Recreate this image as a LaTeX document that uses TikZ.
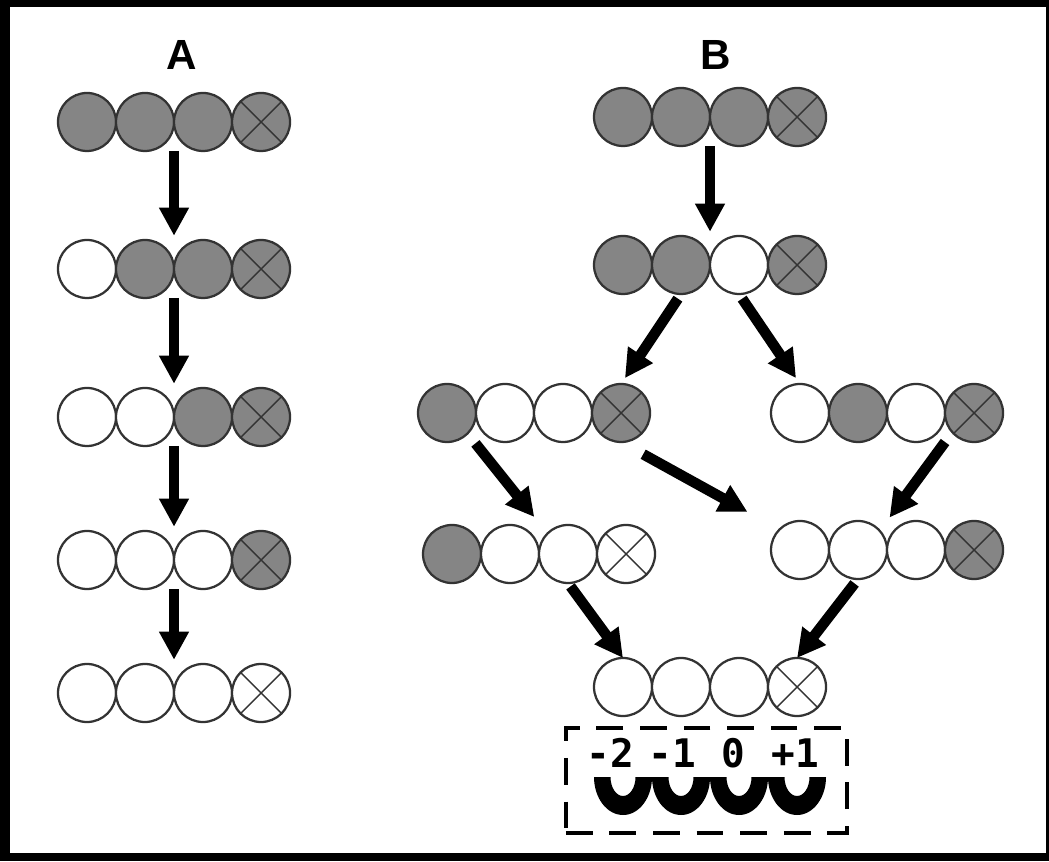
\documentclass[tikz,border=0pt]{standalone}
\usepackage{fontspec}
\setsansfont{Liberation Sans}
\newfontfamily\keyfont{DejaVu Sans Mono}
\usetikzlibrary{positioning,arrows.meta,calc}

\begin{document}
\begin{tikzpicture}[x=0.025cm,y=0.025cm,
        bead/.style={circle,draw=black!80,line width=1.6pt,minimum size=41.25pt,inner sep=0pt,outer sep=0pt},
        full/.style={bead,fill=black!48},
        empty/.style={bead,fill=white},
        crossed/.style={path picture={\draw[black!80,line width=1pt]
            (path picture bounding box.south west) -- (path picture bounding box.north east)
            (path picture bounding box.north west) -- (path picture bounding box.south east);}},
        arr/.style={-{Triangle[length=20pt,width=20pt]},line width=7.5pt},
        title/.style={font=\sffamily\bfseries\fontsize{30}{30}\selectfont},
        num/.style={font=\keyfont\bfseries\fontsize{28}{28}\selectfont,inner sep=0pt}]

        \useasboundingbox (0,0) rectangle (1049,861);
        % Frame
        \fill (0,0) rectangle (1049,861);
        \fill[white] (10,8) rectangle (1046,854);

        \node[title] (labA) at (182,806) {A};
        \node[title] (labB) at (716,806) {B};

        % Strands
        \foreach \r/\x/\y/\fa/\fb/\fc/\fd in {a1/87/739/full/full/full/full,
            a2/87/592/empty/full/full/full, a3/87/444/empty/empty/full/full,
            a4/87/301/empty/empty/empty/full, a5/87/168/empty/empty/empty/empty,
            b1/623/744/full/full/full/full, b2/623/596/full/full/empty/full,
            l3/447/448/full/empty/empty/full, r3/800/448/empty/full/empty/full,
            l4/452/307/full/empty/empty/empty, r4/800/311/empty/empty/empty/full,
            b5/623/174/empty/empty/empty/empty}{
          \node[\fa] (\r-1) at (\x,\y) {};
          \node[\fb,right=0pt of \r-1] (\r-2) {};
          \node[\fc,right=0pt of \r-2] (\r-3) {};
          \node[\fd,crossed,right=0pt of \r-3] (\r-4) {};
        }

        % Steps
        \foreach \i/\j in {1/2,2/3,3/4,4/5}
          \draw[arr,shorten >=3pt] (a\i-2.east |- a\i-2.south) -- (a\j-2.east |- a\j-2.north);

        \draw[arr,shorten >=3pt] (b1-2.east |- b1-2.south) -- (b2-2.east |- b2-2.north);
        \draw[arr,shorten <=4pt,shorten >=5pt] (b2-2.south) -- (l3-4.north);
        \draw[arr,shorten <=4pt,shorten >=5pt] (b2-3.south) -- (r3-1.north);
        \draw[arr,shorten <=9pt,shorten >=15pt] (l3-1.south east) -- (l4-3.north west);
        \draw[arr,shorten <=18pt,shorten >=26pt] (l3-4.south) -- (r4-1.north west);
        \draw[arr,shorten >=3pt] (r3-3.east |- r3-3.south) -- (r4-2.east |- r4-2.north);
        \draw[arr,shorten <=3pt] (l4-3.south) -- (b5-1.north);
        \draw[arr,shorten <=4pt] (r4-2.south) -- (b5-4.north);

        % Register key
        \node[draw,line width=2.85pt,dash pattern=on 19pt off 12pt,minimum width=200pt,
          minimum height=74.7pt,inner sep=0pt] (key) at (706.5,80.5) {};
        \node[num] (k1) at (610,108) {-2};
        \node[num] (k2) at (672,108) {-1};
        \node[num] (k3) at (733,108) {0};
        \node[num] (k4) at (795,108) {+1};
        \foreach \cx in {623,681,739,797}
          \fill (\cx-29,84) arc[start angle=180,end angle=360,x radius=29,y radius=38]
            -- (\cx+12.5,84) arc[start angle=0,end angle=-180,x radius=12.5,y radius=19] -- cycle;

\end{tikzpicture}
\end{document}
